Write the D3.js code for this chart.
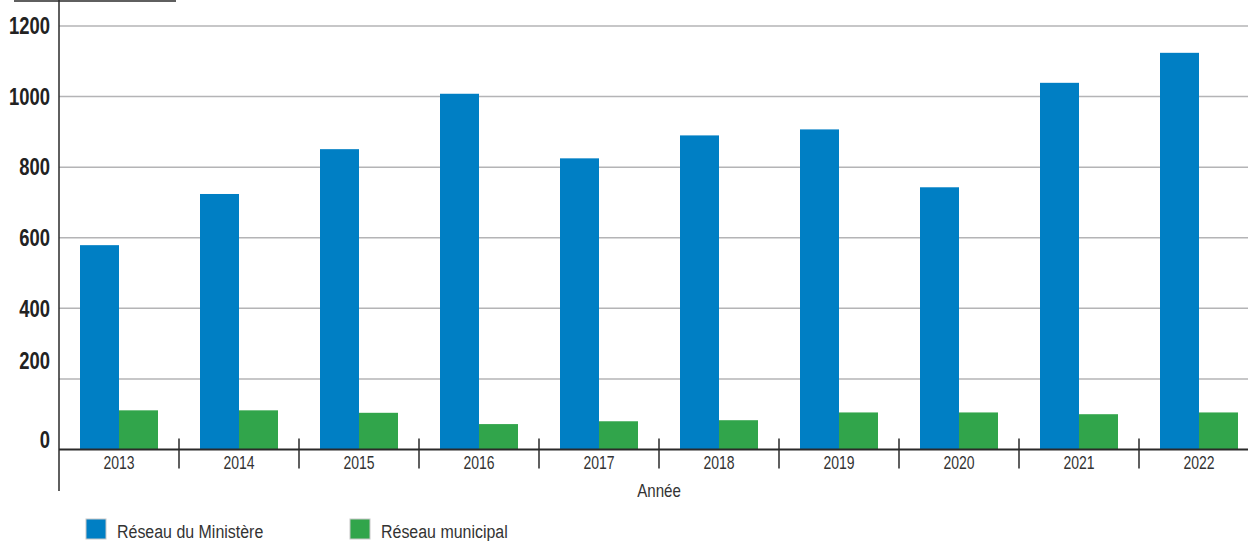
<!DOCTYPE html>
<html>
<head>
<meta charset="utf-8">
<script src="https://cdn.jsdelivr.net/npm/d3@7"></script>
<style>
  body { margin: 0; background: #ffffff; }
  svg { display: block; font-family: "Liberation Sans", Arial, sans-serif; }
</style>
</head>
<body>
<svg id="chart"></svg>
<script>
const years = ['2013', '2014', '2015', '2016', '2017', '2018', '2019', '2020', '2021', '2022'];
const ministere = [579, 724, 851, 1008, 825, 890, 907, 743, 1039, 1124];
const municipal = [111, 111, 104, 72, 80, 83, 105, 105, 100, 105];
const yTicks = [0, 200, 400, 600, 800, 1000, 1200];
const seriesNames = ['Réseau du Ministère', 'Réseau municipal'];
const colors = ['#007fc4', '#31a54b'];

const W = 1248, H = 541;

const svg = d3.select('#chart').attr('width', W).attr('height', H);

const x0 = 59;
const y = d3.scaleLinear().domain([0, 1200]).range([449.5, 26]);
const x = d3.scaleBand().domain(years).range([x0, x0 + 1200]).paddingInner(0.35).paddingOuter(0.175);
const xs = d3.scaleBand().domain([0, 1]).range([0, x.bandwidth()]);

// no condensed font installed, so texts are squeezed horizontally
function place(sel, tx, ty, k) {
  sel.attr('transform', (d, i) => `translate(${tx(d, i)},${ty(d, i)}) scale(${k},1)`);
}

// gridlines
svg.append('g')
  .selectAll('line')
  .data(yTicks.filter(d => d > 0))
  .enter().append('line')
  .attr('x1', x0).attr('x2', W)
  .attr('y1', d => y(d)).attr('y2', d => y(d))
  .attr('stroke', '#b4b4b6')
  .attr('stroke-width', 1.5);

// y labels (the two lowest sit a bit higher in the original)
const labelShift = { 0: -10, 200: -18 };
svg.append('g')
  .selectAll('text')
  .data(yTicks)
  .enter().append('text')
  .call(place, () => 50, d => y(d) + (labelShift[d] || 0), 0.8)
  .attr('dy', '0.36em')
  .attr('text-anchor', 'end')
  .attr('font-weight', 'bold')
  .attr('font-size', 23)
  .attr('fill', '#222')
  .text(d => d);

// bars
const groups = svg.append('g')
  .selectAll('g')
  .data(years)
  .enter().append('g')
  .attr('transform', d => `translate(${x(d)},0)`);

groups.selectAll('rect')
  .data((d, i) => [ministere[i], municipal[i]])
  .enter().append('rect')
  .attr('x', (d, j) => xs(j))
  .attr('width', xs.bandwidth())
  .attr('y', d => y(d))
  .attr('height', d => y(0) - y(d))
  .attr('fill', (d, j) => colors[j]);

// x axis
const xAxis = svg.append('g').attr('transform', `translate(0,${y(0)})`);
xAxis.append('line')
  .attr('x1', x0).attr('x2', W)
  .attr('stroke', '#2a2a2a').attr('stroke-width', 2);

xAxis.selectAll('.sep')
  .data(years.slice(1))
  .enter().append('line')
  .attr('class', 'sep')
  .attr('x1', d => x(d) - x.step() * x.paddingInner() / 2)
  .attr('x2', d => x(d) - x.step() * x.paddingInner() / 2)
  .attr('y1', -11).attr('y2', 19)
  .attr('stroke', '#2a2a2a').attr('stroke-width', 1.5);

xAxis.selectAll('.lbl')
  .data(years)
  .enter().append('text')
  .attr('class', 'lbl')
  .call(place, d => x(d) + x.bandwidth() / 2, () => 19, 0.8)
  .attr('text-anchor', 'middle')
  .attr('font-size', 17.5)
  .attr('fill', '#333')
  .text(d => d);

svg.append('text')
  .call(place, () => x0 + 600, () => 497, 0.84)
  .attr('text-anchor', 'middle')
  .attr('font-size', 18)
  .attr('fill', '#333')
  .text('Année');

// y axis line + top rule
svg.append('line')
  .attr('x1', x0).attr('x2', x0)
  .attr('y1', 0).attr('y2', 491)
  .attr('stroke', '#2a2a2a').attr('stroke-width', 1.5);

svg.append('line')
  .attr('x1', 14).attr('x2', 176)
  .attr('y1', 1).attr('y2', 1)
  .attr('stroke', '#2a2a2a').attr('stroke-width', 1.5);

// legend
const legend = svg.append('g')
  .selectAll('g')
  .data(seriesNames)
  .enter().append('g')
  .attr('transform', (d, i) => `translate(${86 + i * 264},519)`);

legend.append('rect')
  .attr('width', 20).attr('height', 20)
  .attr('fill', (d, i) => colors[i])
  .attr('stroke', '#c8c8c8').attr('stroke-width', 1);

legend.append('text')
  .call(place, () => 31, () => 19, 0.84)
  .attr('font-size', 19)
  .attr('fill', '#333')
  .text(d => d);
</script>
</body>
</html>
